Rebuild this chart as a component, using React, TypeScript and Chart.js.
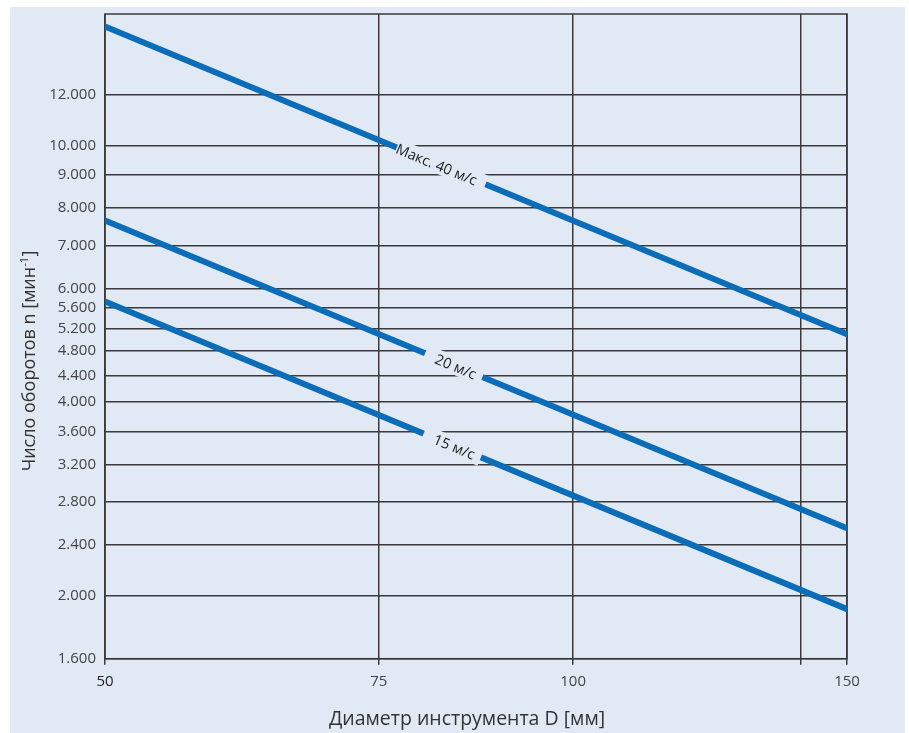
import React, { useEffect, useRef } from "react";
import { Chart, registerables } from "chart.js";

Chart.register(...registerables);

// ---- data ----
const diameters = [50, 150];
const speed40 = [15300, 5100];
const speed20 = [7650, 2550];
const speed15 = [5730, 1910];
const seriesLabels = ["Макс. 40 м/с", "20 м/с", "15 м/с"];

const xTickValues = [50, 75, 100, 140, 150];
const xTickLabels = ["50", "75", "100", "", "150"];
const yTickValues = [1600, 2000, 2400, 2800, 3200, 3600, 4000, 4400, 4800, 5200, 5600, 6000, 7000, 8000, 9000, 10000, 12000];
const yTickLabels = ["1.600", "2.000", "2.400", "2.800", "3.200", "3.600", "4.000", "4.400", "4.800", "5.200", "5.600", "6.000", "7.000", "8.000", "9.000", "10.000", "12.000"];

const xTitle = "Диаметр инструмента D [мм]";
const yTitleMain = "Число оборотов n [мин";
const yTitleSup = "-1";
const yTitleEnd = "]";

// ---- styles ----
const BG = "#e1e9f5";
const GRID = "#3a3a3a";
const LINE = "#0b6db8";
const FONT = '"Open Sans", "Noto Sans", sans-serif';
const gapPos = [0.453, 0.47, 0.468];
const textPos = [0.447, 0.473, 0.471];
const labelGap = [96, 62, 62];

const overlay = {
  id: "overlay",
  beforeDatasetsDraw(chart: any) {
    const { ctx, chartArea } = chart;
    ctx.save();
    ctx.strokeStyle = GRID;
    ctx.lineWidth = 1.5;
    ctx.strokeRect(chartArea.left, chartArea.top, chartArea.right - chartArea.left, chartArea.bottom - chartArea.top);
    ctx.restore();
  },
  afterDatasetsDraw(chart: any) {
    const { ctx } = chart;
    chart.data.datasets.forEach((ds: any, i: number) => {
      const meta = chart.getDatasetMeta(i);
      const p0 = meta.data[0];
      const p1 = meta.data[meta.data.length - 1];
      const ang = Math.atan2(p1.y - p0.y, p1.x - p0.x);
      const at = (t: number) => [p0.x + (p1.x - p0.x) * t, p0.y + (p1.y - p0.y) * t];
      // gap in line
      const [gx, gy] = at(gapPos[i]);
      ctx.save();
      ctx.translate(gx, gy);
      ctx.rotate(ang);
      ctx.fillStyle = BG;
      ctx.fillRect(-labelGap[i] / 2, -9, labelGap[i], 18);
      ctx.restore();
      // text
      const [tx, ty] = at(textPos[i]);
      ctx.save();
      ctx.translate(tx, ty);
      ctx.rotate(ang);
      ctx.fillStyle = "#222";
      ctx.font = `14.5px ${FONT}`;
      ctx.textAlign = "center";
      ctx.textBaseline = "middle";
      ctx.fillText(seriesLabels[i], 0, 1.5);
      ctx.restore();
    });

    // x title
    ctx.save();
    ctx.fillStyle = "#333";
    ctx.font = `19.5px ${FONT}`;
    ctx.textAlign = "center";
    ctx.textBaseline = "alphabetic";
    ctx.fillText(xTitle, 457, 718);
    ctx.restore();

    // y title with superscript
    ctx.save();
    ctx.translate(25, 354);
    ctx.rotate(-Math.PI / 2);
    ctx.fillStyle = "#333";
    ctx.textBaseline = "alphabetic";
    ctx.textAlign = "left";
    const big = `18px ${FONT}`;
    const small = `11.5px ${FONT}`;
    ctx.font = big;
    const wMain = ctx.measureText(yTitleMain).width;
    const wEnd = ctx.measureText(yTitleEnd).width;
    ctx.font = small;
    const wSup = ctx.measureText(yTitleSup).width;
    let sx = -(wMain + wSup + wEnd) / 2;
    ctx.font = big;
    ctx.fillText(yTitleMain, sx, 0);
    sx += wMain;
    ctx.font = small;
    ctx.fillText(yTitleSup, sx, -7);
    sx += wSup;
    ctx.font = big;
    ctx.fillText(yTitleEnd, sx, 0);
    ctx.restore();
  },
};

export default function App() {
  const ref = useRef<HTMLCanvasElement | null>(null);

  useEffect(() => {
    if (!ref.current) return;
    const mk = (vals: number[]) => diameters.map((d, i) => ({ x: d, y: vals[i] }));
    const dsBase = {
      borderColor: LINE,
      backgroundColor: LINE,
      borderWidth: 6,
      borderCapStyle: "round" as const,
      pointRadius: 0,
      pointHoverRadius: 0,
      fill: false,
    };
    const chart = new Chart(ref.current, {
      type: "line",
      data: {
        datasets: [
          { ...dsBase, label: seriesLabels[0], data: mk(speed40) },
          { ...dsBase, label: seriesLabels[1], data: mk(speed20) },
          { ...dsBase, label: seriesLabels[2], data: mk(speed15) },
        ],
      },
      options: {
        animation: false,
        responsive: false,
        maintainAspectRatio: false,
        events: [],
        layout: { padding: { left: 0, right: 58, top: 7, bottom: 0 } },
        plugins: { legend: { display: false }, tooltip: { enabled: false }, title: { display: false } },
        scales: {
          x: {
            type: "logarithmic",
            min: 50,
            max: 150,
            afterBuildTicks: (s: any) => {
              s.ticks = xTickValues.map((v) => ({ value: v }));
            },
            afterFit: (s: any) => {
              s.height = 74.3;
              s.paddingLeft = 0;
              s.paddingRight = 0;
            },
            ticks: {
              autoSkip: false,
              maxRotation: 0,
              padding: 8,
              font: { family: FONT, size: 15 },
              color: (c: any) => (c.index === 0 ? "#222" : "#444"),
              callback: (_v: any, i: number) => xTickLabels[i],
            },
            grid: { color: GRID, lineWidth: 1.5, tickLength: 6 },
            border: { display: false },
          },
          y: {
            type: "logarithmic",
            min: 1600,
            max: 16000,
            afterBuildTicks: (s: any) => {
              s.ticks = yTickValues.map((v) => ({ value: v }));
            },
            afterFit: (s: any) => {
              s.width = 95;
              s.paddingTop = 0;
              s.paddingBottom = 0;
            },
            ticks: {
              autoSkip: false,
              padding: 9,
              font: { family: FONT, size: 15 },
              color: "#444",
              callback: (_v: any, i: number) => yTickLabels[i],
            },
            grid: { color: GRID, lineWidth: 1.5, drawTicks: false },
            border: { display: false },
          },
        },
      },
      plugins: [overlay],
    });
    return () => chart.destroy();
  }, []);

  return (
    <div style={{ position: "fixed", left: 10, top: 7, width: 895, height: 726, background: BG }}>
      <canvas ref={ref} width={895} height={726} style={{ display: "block", width: 895, height: 726 }} />
    </div>
  );
}
